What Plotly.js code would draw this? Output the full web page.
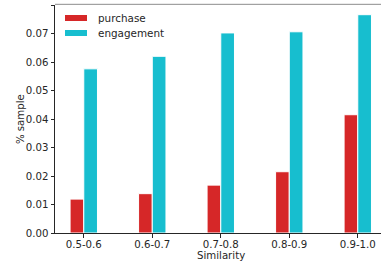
<!DOCTYPE html>
<html>
<head>
<meta charset="utf-8">
<script src="https://cdn.plot.ly/plotly-3.0.1.min.js"></script>
<style>html,body{margin:0;padding:0;background:#fff;}#chart{width:381px;height:266px;}</style>
</head>
<body>
<div id="chart"></div>
<script>
const categories = ["0.5-0.6", "0.6-0.7", "0.7-0.8", "0.8-0.9", "0.9-1.0"];
const purchase = [0.0119, 0.0138, 0.0168, 0.0215, 0.0415];
const engagement = [0.0576, 0.0620, 0.0702, 0.0706, 0.0766];
const yTicks = [0, 0.01, 0.02, 0.03, 0.04, 0.05, 0.06, 0.07, 0.08];
const yTickLabels = ["0.00", "0.01", "0.02", "0.03", "0.04", "0.05", "0.06", "0.07", "0.08"];
const seriesNames = ["purchase", "engagement"];
const colors = ["#d62728", "#17becf"];

const xIdx = categories.map((c, i) => i);
const font = {family: "DejaVu Sans, sans-serif", size: 10.2, color: "#262626"};

const traces = [purchase, engagement].map((vals, k) => ({
  type: "bar",
  x: xIdx,
  y: vals,
  name: seriesNames[k],
  marker: {color: colors[k], line: {color: "#ffffff", width: 1}},
  showlegend: false,
  hoverinfo: "none"
}));

// custom legend (paper coords)
const legendY = [[0.9298, 0.9561], [0.864, 0.8904]];
const legendTextY = [0.943, 0.877];
const shapes = seriesNames.map((n, k) => ({
  type: "rect", xref: "paper", yref: "paper",
  x0: 0.0307, x1: 0.0982, y0: legendY[k][0], y1: legendY[k][1],
  fillcolor: colors[k], line: {width: 0}
}));
shapes.push({type: "line", xref: "paper", yref: "paper", x0: 0, x1: 1, y0: 1.003, y1: 1.003,
  line: {color: "#8c8c8c", width: 1}});

const annotations = seriesNames.map((n, k) => ({
  xref: "paper", yref: "paper", x: 0.1248, y: legendTextY[k],
  xanchor: "left", yanchor: "middle", showarrow: false, text: n,
  font: {family: font.family, size: 10.4, color: "#262626"}
}));
annotations.push({
  xref: "paper", yref: "paper", x: 0.509, y: 0, yshift: -15,
  xanchor: "center", yanchor: "top", showarrow: false, text: "Similarity",
  font: font
});
annotations.push({
  xref: "paper", yref: "paper", x: -0.107, y: 0.5,
  xanchor: "center", yanchor: "middle", showarrow: false, text: "% sample",
  textangle: -90, font: font
});

const layout = {
  width: 381, height: 266,
  margin: {l: 55, r: 0, t: 5, b: 33, pad: 0},
  paper_bgcolor: "#ffffff", plot_bgcolor: "#ffffff",
  font: font,
  barmode: "group", bargap: 0.6, bargroupgap: 0,
  xaxis: {
    range: [-0.42, 4.339],
    tickmode: "array", tickvals: xIdx, ticktext: categories,
    showgrid: false, zeroline: false,
    showline: true, linecolor: "#262626", linewidth: 1,
    ticks: "outside", ticklen: 3.5, tickwidth: 1, tickcolor: "#262626",
    ticklabelstandoff: -2,
    tickfont: font
  },
  yaxis: {
    range: [0, 0.08],
    tickmode: "array", tickvals: yTicks, ticktext: yTickLabels,
    showgrid: false, zeroline: false,
    showline: true, linecolor: "#262626", linewidth: 1,
    ticks: "outside", ticklen: 3.5, tickwidth: 1, tickcolor: "#262626",
    tickfont: font
  },
  shapes: shapes,
  annotations: annotations
};

Plotly.newPlot("chart", traces, layout, {staticPlot: true, displayModeBar: false});
</script>
</body>
</html>
